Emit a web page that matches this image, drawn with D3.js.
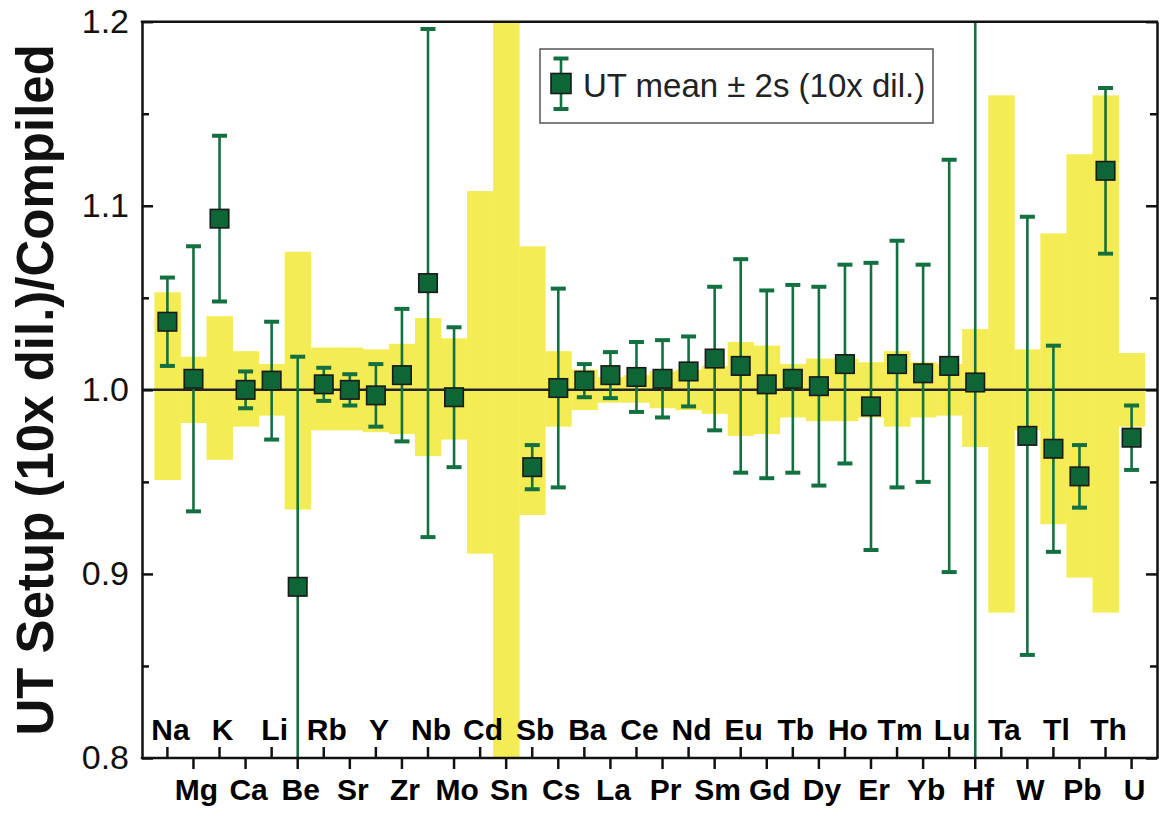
<!DOCTYPE html>
<html>
<head>
<meta charset="utf-8">
<script src="https://cdn.jsdelivr.net/npm/d3@7"></script>
<style>
  html, body { margin: 0; padding: 0; background: #ffffff; }
  svg { display: block; }
</style>
</head>
<body>
<svg id="chart" width="1161" height="814"></svg>
<script>
// Elements in plotting order
const elements = ["Na","Mg","K","Ca","Li","Be","Rb","Sr","Y","Zr","Nb","Mo","Cd","Sn","Sb","Cs","Ba","La","Ce","Pr","Nd","Sm","Eu","Gd","Tb","Dy","Ho","Er","Tm","Yb","Lu","Hf","Ta","W","Tl","Pb","Th","U"];

// UT setup mean (10x dilution) relative to compiled values; null = not measured
const utMean = [1.037,1.006,1.093,1.000,1.005,0.893,1.003,1.000,0.997,1.008,1.058,0.996,null,null,0.958,1.001,1.005,1.008,1.007,1.006,1.010,1.017,1.013,1.003,1.006,1.002,1.014,0.991,1.014,1.009,1.013,1.004,null,0.975,0.968,0.953,1.119,0.974];

// 2s uncertainty of the UT mean
const utTwoS = [0.024,0.072,0.045,0.010,0.032,0.125,0.009,0.0085,0.017,0.036,0.138,0.038,null,null,0.012,0.054,0.009,0.0125,0.019,0.021,0.019,0.039,0.058,0.051,0.051,0.054,0.054,0.078,0.067,0.059,0.112,0.25,null,0.119,0.056,0.017,0.045,0.0175];

// Compiled value uncertainty range (normalised), lower and upper limits
const compiledLow  = [0.951,0.982,0.962,0.980,0.986,0.935,0.978,0.978,0.977,0.976,0.964,0.973,0.911,0.750,0.932,0.980,0.989,0.993,0.993,0.990,0.989,0.987,0.975,0.976,0.985,0.983,0.983,0.985,0.980,0.985,0.986,0.969,0.879,0.978,0.927,0.898,0.879,0.980];
const compiledHigh = [1.053,1.018,1.040,1.021,1.014,1.075,1.023,1.023,1.022,1.025,1.039,1.028,1.108,1.250,1.078,1.021,1.011,1.007,1.008,1.010,1.011,1.013,1.026,1.024,1.014,1.017,1.017,1.015,1.021,1.015,1.014,1.033,1.160,1.022,1.085,1.128,1.160,1.020];

const yMajorTicks = [0.8, 0.9, 1.0, 1.1, 1.2];
const yMinorTicks = [0.85, 0.95, 1.05, 1.15];

const yTitle = "UT Setup (10x dil.)/Compiled";
const legendLabel = "UT mean \u00b1 2s (10x dil.)";

const rows = elements.map((el, i) => ({
  el, i,
  mean: utMean[i], s2: utTwoS[i],
  lo: compiledLow[i], hi: compiledHigh[i]
}));

const plot = { left: 142, right: 1157, top: 21.7, bottom: 758 };
const YELLOW = "#f4ec55";
const GREEN = "#137040";
const MARKER = "#0e6535";

const svg = d3.select("#chart");

const x = d3.scaleBand()
  .domain(elements)
  .range([plot.left, plot.right])
  .paddingInner(0)
  .paddingOuter(0.475);

const y = d3.scaleLinear()
  .domain([0.8, 1.2])
  .range([plot.bottom, plot.top]);

svg.append("defs").append("clipPath").attr("id", "plotClip")
  .append("rect")
  .attr("x", plot.left).attr("y", plot.top)
  .attr("width", plot.right - plot.left)
  .attr("height", plot.bottom - plot.top);

const g = svg.append("g").attr("clip-path", "url(#plotClip)");

// Compiled uncertainty bands
g.selectAll("rect.band").data(rows).join("rect")
  .attr("class", "band")
  .attr("x", d => x(d.el))
  .attr("width", x.bandwidth() + 0.4)
  .attr("y", d => y(d.hi))
  .attr("height", d => y(d.lo) - y(d.hi))
  .attr("fill", YELLOW);

// Unity reference line
g.append("line")
  .attr("x1", plot.left).attr("x2", plot.right)
  .attr("y1", y(1)).attr("y2", y(1))
  .attr("stroke", "#222").attr("stroke-width", 2.5);

const measured = rows.filter(d => d.mean !== null);
const cx = d => x(d.el) + x.bandwidth() / 2;
const capW = 15;

// Error bars
const eb = g.selectAll("g.err").data(measured).join("g").attr("class", "err");
eb.append("line")
  .attr("x1", cx).attr("x2", cx)
  .attr("y1", d => y(d.mean + d.s2)).attr("y2", d => y(d.mean - d.s2))
  .attr("stroke", GREEN).attr("stroke-width", 2.6);
eb.append("line")
  .attr("x1", d => cx(d) - capW / 2).attr("x2", d => cx(d) + capW / 2)
  .attr("y1", d => y(d.mean + d.s2)).attr("y2", d => y(d.mean + d.s2))
  .attr("stroke", GREEN).attr("stroke-width", 4);
eb.append("line")
  .attr("x1", d => cx(d) - capW / 2).attr("x2", d => cx(d) + capW / 2)
  .attr("y1", d => y(d.mean - d.s2)).attr("y2", d => y(d.mean - d.s2))
  .attr("stroke", GREEN).attr("stroke-width", 4);

// Mean markers
const ms = 18.5;
g.selectAll("rect.marker").data(measured).join("rect")
  .attr("class", "marker")
  .attr("x", d => cx(d) - ms / 2)
  .attr("y", d => y(d.mean) - ms / 2)
  .attr("width", ms).attr("height", ms)
  .attr("fill", MARKER)
  .attr("stroke", "#1a1a1a").attr("stroke-width", 1.6);

// Axes
const font = "'Liberation Sans', Arial, Helvetica, sans-serif";

const axL = svg.append("g").attr("transform", `translate(${plot.left},0)`)
  .call(d3.axisLeft(y).tickValues(yMajorTicks).tickSize(-11).tickSizeOuter(0)
    .tickPadding(14).tickFormat(d3.format(".1f")));
axL.select(".domain").attr("stroke", "#111").attr("stroke-width", 2.5);
axL.selectAll(".tick line").attr("stroke", "#111").attr("stroke-width", 2.5);
axL.selectAll(".tick text").attr("font-family", font).attr("font-size", 34).attr("fill", "#111")
  .attr("x", -13);

const axLm = svg.append("g").attr("transform", `translate(${plot.left},0)`)
  .call(d3.axisLeft(y).tickValues(yMinorTicks).tickSize(-7).tickSizeOuter(0).tickFormat(""));
axLm.select(".domain").remove();
axLm.selectAll(".tick line").attr("stroke", "#111").attr("stroke-width", 2.5);

const axR = svg.append("g").attr("transform", `translate(${plot.right},0)`)
  .call(d3.axisRight(y).tickValues(yMajorTicks).tickSize(-11).tickSizeOuter(0).tickFormat(""));
axR.select(".domain").attr("stroke", "#111").attr("stroke-width", 2.5);
axR.selectAll(".tick line").attr("stroke", "#111").attr("stroke-width", 2.5);

const axRm = svg.append("g").attr("transform", `translate(${plot.right},0)`)
  .call(d3.axisRight(y).tickValues(yMinorTicks).tickSize(-7).tickSizeOuter(0).tickFormat(""));
axRm.select(".domain").remove();
axRm.selectAll(".tick line").attr("stroke", "#111").attr("stroke-width", 2.5);

// Top frame
svg.append("line")
  .attr("x1", plot.left - 1.2).attr("x2", plot.right + 1.2)
  .attr("y1", plot.top).attr("y2", plot.top)
  .attr("stroke", "#111").attr("stroke-width", 2.5);

// Bottom axis: alternate elements, labels inside (ticks up) and outside (ticks down)
const innerEls = elements.filter((e, i) => i % 2 === 0);
const outerEls = elements.filter((e, i) => i % 2 === 1);

const axBi = svg.append("g").attr("transform", `translate(0,${plot.bottom})`)
  .call(d3.axisBottom(x).tickValues(innerEls).tickSize(-11).tickSizeOuter(0));
axBi.select(".domain").attr("stroke", "#111").attr("stroke-width", 2.5)
  .attr("d", `M${plot.left - 1.2},0H${plot.right + 1.2}`);
axBi.selectAll(".tick line").attr("stroke", "#111").attr("stroke-width", 2.5);
axBi.selectAll(".tick text")
  .attr("font-family", font).attr("font-size", 30).attr("font-weight", "bold").attr("fill", "#000")
  .attr("x", 3).attr("y", -18).attr("dy", null);

const axBo = svg.append("g").attr("transform", `translate(0,${plot.bottom})`)
  .call(d3.axisBottom(x).tickValues(outerEls).tickSize(11).tickSizeOuter(0));
axBo.select(".domain").remove();
axBo.selectAll(".tick line").attr("stroke", "#111").attr("stroke-width", 2.5);
axBo.selectAll(".tick text")
  .attr("font-family", font).attr("font-size", 30).attr("font-weight", "bold").attr("fill", "#000")
  .attr("x", 3).attr("y", 42).attr("dy", null);

// Y axis title
svg.append("text")
  .attr("transform", `translate(53,${(plot.top + plot.bottom) / 2}) rotate(-90)`)
  .attr("text-anchor", "middle")
  .attr("font-family", font).attr("font-size", 51).attr("font-weight", "bold").attr("fill", "#111")
  .text(yTitle);

// Legend
const lg = svg.append("g");
lg.append("rect")
  .attr("x", 540).attr("y", 49).attr("width", 393).attr("height", 74)
  .attr("fill", "#fff").attr("stroke", "#555").attr("stroke-width", 1.5);
const lx = 561, ly = 83.5;
lg.append("line").attr("x1", lx).attr("x2", lx).attr("y1", 58.5).attr("y2", 109)
  .attr("stroke", GREEN).attr("stroke-width", 2.6);
[58.5, 109].forEach(yy => lg.append("line")
  .attr("x1", lx - capW / 2).attr("x2", lx + capW / 2).attr("y1", yy).attr("y2", yy)
  .attr("stroke", GREEN).attr("stroke-width", 4));
lg.append("rect").attr("x", lx - 10).attr("y", ly - 10).attr("width", 20).attr("height", 20)
  .attr("fill", MARKER).attr("stroke", "#1a1a1a").attr("stroke-width", 1.6);
lg.append("text").attr("x", 583).attr("y", 97)
  .attr("font-family", font).attr("font-size", 33).attr("fill", "#222")
  .text(legendLabel);
</script>
</body>
</html>
